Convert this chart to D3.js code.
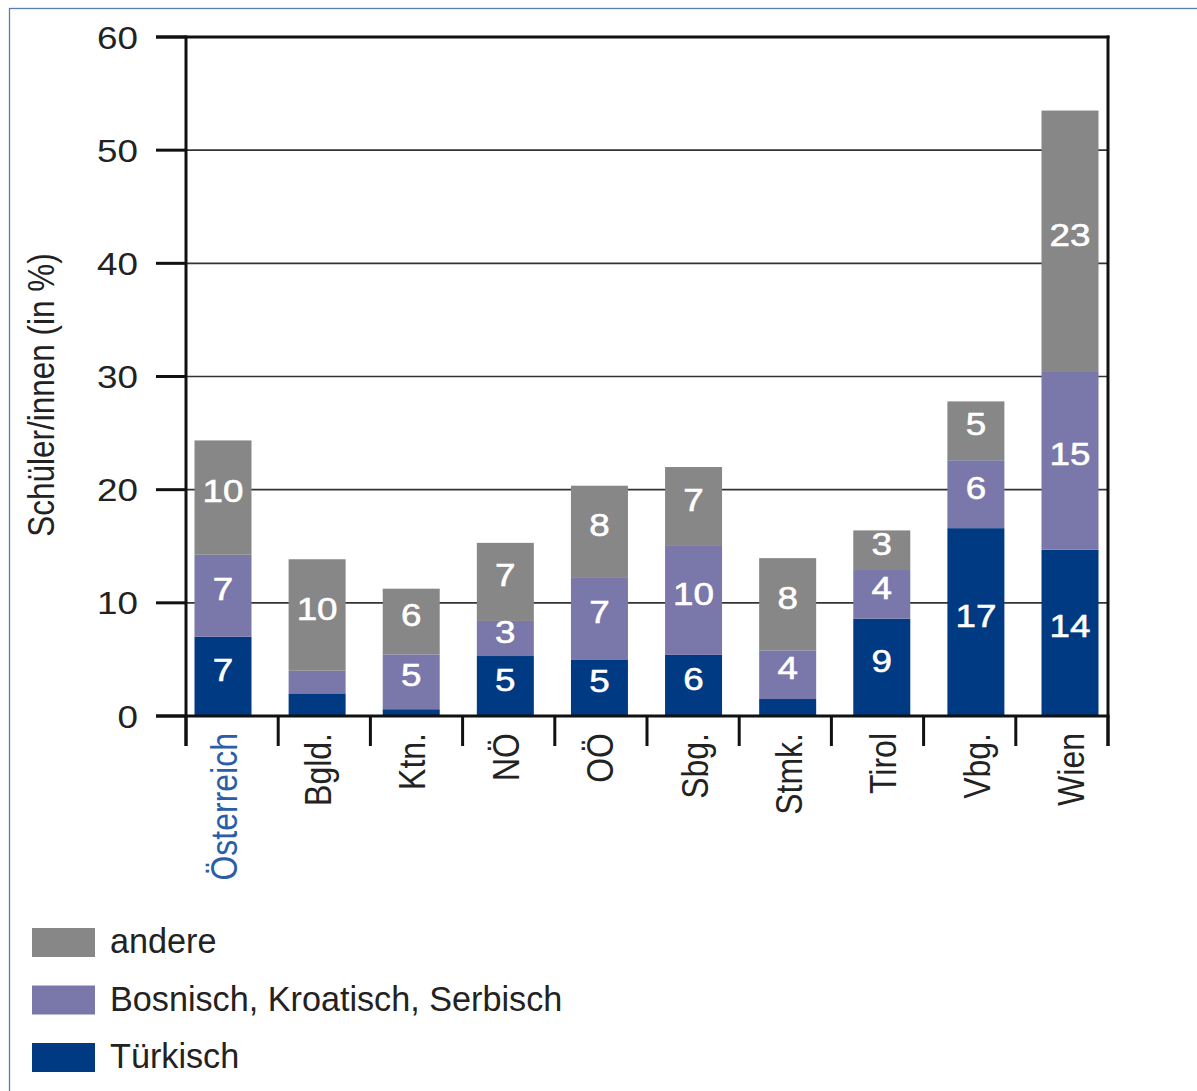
<!DOCTYPE html>
<html><head><meta charset="utf-8">
<script src="https://cdn.jsdelivr.net/npm/d3@7"></script>
<style>
body{margin:0;background:#fff}
svg{display:block;font-family:"Liberation Sans",Arial,Helvetica,sans-serif}
</style>
</head><body>
<svg id="c" width="1197" height="1091"></svg>
<script>
// ---- data ----
const categories = ["Österreich","Bgld.","Ktn.","NÖ","OÖ","Sbg.","Stmk.","Tirol","Vbg.","Wien"];
const seriesKeys = ["tuerkisch","bks","andere"];
const seriesNames = ["Türkisch","Bosnisch, Kroatisch, Serbisch","andere"];
const tuerkisch = [7.0, 2.0, 0.6, 5.3, 5.0, 5.4, 1.5, 8.6, 16.6, 14.7];
const bks       = [7.25, 2.0, 4.85, 3.1, 7.2, 9.7, 4.3, 4.3, 6.0, 15.7];
const andere    = [10.1, 9.85, 5.8, 6.9, 8.15, 6.9, 8.15, 3.5, 5.2, 23.1];
const labelTuerkisch = ["7","","","5","5","6","","9","17","14"];
const labelBks       = ["7","","5","3","7","10","4","4","6","15"];
const labelAndere    = ["10","10","6","7","8","7","8","3","5","23"];
const yTicks = [0,10,20,30,40,50,60];
const yTitle = "Schüler/innen (in %)";

// ---- styles ----
const colors = {tuerkisch:"#003a82", bks:"#7a78aa", andere:"#878787"};
const SX = 1.15; // horizontal stretch of the chart lettering

const svg = d3.select("#c");
const L = 186, R = 1108, T = 37, B = 716;

const rows = categories.map((c,i)=>({cat:c, tuerkisch:tuerkisch[i], bks:bks[i], andere:andere[i]}));
const labels = {tuerkisch:labelTuerkisch, bks:labelBks, andere:labelAndere};
const stacked = d3.stack().keys(seriesKeys)(rows);

const y = d3.scaleLinear().domain([0,60]).range([B,T]);
const xBand = d3.scaleBand().domain(categories).range([L,R]);
const xBar = d3.scalePoint().domain(categories).range([223,1070]);
const barW = 57;

// frame
svg.append("rect").attr("x",9.5).attr("y",8.5).attr("width",1250).attr("height",1150)
  .attr("fill","none").attr("stroke","#5b7db3").attr("stroke-width",1.3);

// gridlines
svg.append("g").selectAll("line").data(yTicks.filter(v=>v>0 && v<60)).join("line")
  .attr("x1",L).attr("x2",R).attr("y1",d=>y(d)).attr("y2",d=>y(d))
  .attr("stroke","#333").attr("stroke-width",1.6);

// bars
const gBars = svg.append("g");
stacked.forEach(s=>{
  gBars.append("g").selectAll("rect").data(s).join("rect")
    .attr("x",d=>xBar(d.data.cat)-barW/2)
    .attr("width",barW)
    .attr("y",d=>y(d[1]))
    .attr("height",d=>y(d[0])-y(d[1]))
    .attr("fill",colors[s.key]);
});

// value labels
const gLab = svg.append("g");
stacked.forEach(s=>{
  gLab.append("g").selectAll("text").data(s).join("text")
    .attr("transform",d=>`translate(${xBar(d.data.cat)},${(y(d[0])+y(d[1]))/2 - 7}) scale(${SX},1)`)
    .attr("text-anchor","middle").attr("dy","0.36em")
    .attr("font-size",32).attr("fill","#fff")
    .attr("stroke","#fff").attr("stroke-width",0.6)
    .text((d,i)=>labels[s.key][i]);
});

// axes frame lines
const ax = svg.append("g").attr("stroke","#111").attr("stroke-width",3).attr("fill","none");
ax.append("line").attr("x1",L).attr("x2",L).attr("y1",T-1.5).attr("y2",B+30);
ax.append("line").attr("x1",R).attr("x2",R).attr("y1",T-1.5).attr("y2",B+30);
ax.append("line").attr("x1",L-30).attr("x2",R+1.5).attr("y1",y(60)).attr("y2",y(60));
ax.append("line").attr("x1",L-30).attr("x2",R+1.5).attr("y1",y(0)).attr("y2",y(0));
// y ticks
ax.append("g").selectAll("line").data(yTicks).join("line")
  .attr("x1",L-30).attr("x2",L).attr("y1",d=>y(d)).attr("y2",d=>y(d));
// x ticks at band boundaries
const bounds = categories.map(c=>xBand(c)).concat([xBand(categories[categories.length-1])+xBand.bandwidth()]);
ax.append("g").selectAll("line").data(bounds).join("line")
  .attr("x1",d=>d).attr("x2",d=>d).attr("y1",B).attr("y2",B+30);

// y tick labels
svg.append("g").selectAll("text").data(yTicks).join("text")
  .attr("transform",d=>`translate(138,${y(d)}) scale(${SX},1)`)
  .attr("text-anchor","end").attr("dy","0.36em")
  .attr("font-size",32).attr("fill","#222")
  .text(d=>d);

// x labels (rotated)
svg.append("g").selectAll("text").data(categories).join("text")
  .attr("transform",d=>`translate(${xBar(d)},733) scale(${SX},1) rotate(-90)`)
  .attr("text-anchor","end").attr("dy","0.38em")
  .attr("font-size",32)
  .attr("fill",(d,i)=>i===0?"#2b5ea8":"#222")
  .text(d=>d);

// y title
svg.append("text")
  .attr("transform",`translate(41,395) scale(${SX},1) rotate(-90)`)
  .attr("text-anchor","middle").attr("dy","0.36em")
  .attr("font-size",31.5).attr("fill","#222")
  .text(yTitle);

// legend
const legendOrder = ["andere","bks","tuerkisch"];
const lg = svg.append("g").selectAll("g").data(legendOrder).join("g")
  .attr("transform",(d,i)=>`translate(32,${928 + i*57.5})`);
lg.append("rect").attr("width",63).attr("height",29).attr("fill",d=>colors[d]);
lg.append("text").attr("x",78).attr("y",25).attr("font-size",34.2).attr("fill","#222")
  .text(d=>seriesNames[seriesKeys.indexOf(d)]);
</script>
</body></html>
